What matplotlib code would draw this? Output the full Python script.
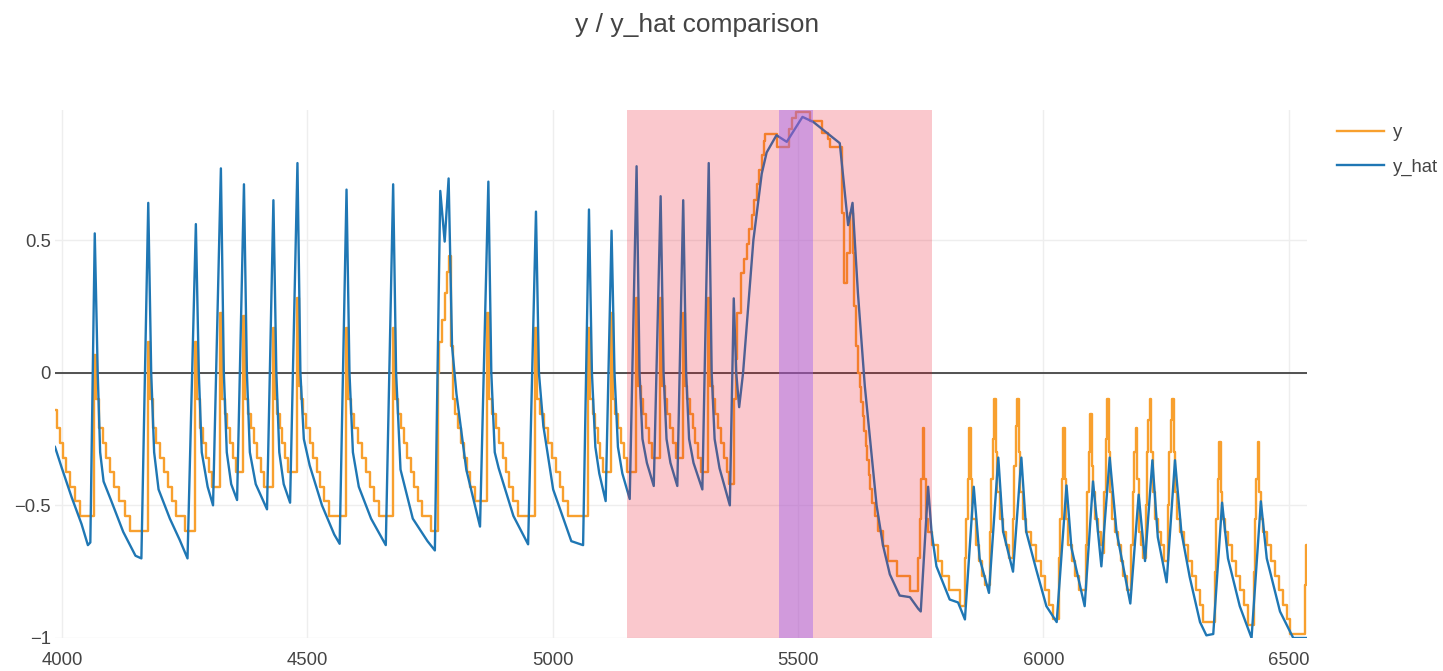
import matplotlib
matplotlib.use("Agg")
import matplotlib.pyplot as plt
from matplotlib.patches import Rectangle

plt.rcParams['font.family'] = ['Liberation Sans', 'DejaVu Sans']

# y_hat (model output), vertices of the line
y_hat_pts = [
    (3986, -0.28), (4000, -0.36), (4020, -0.47), (4040, -0.57), (4053, -0.65), (4058, -0.64),
    (4067, 0.525), (4073, 0.0), (4078, -0.30), (4085, -0.41), (4100, -0.48), (4125, -0.60), (4150, -0.69), (4162, -0.70),
    (4176, 0.64), (4182, 0.0), (4188, -0.30), (4197, -0.44), (4220, -0.55), (4240, -0.63), (4256, -0.70),
    (4273, 0.56), (4279, 0.0), (4285, -0.30), (4297, -0.43), (4308, -0.50),
    (4324, 0.77), (4330, 0.0), (4336, -0.30), (4345, -0.42), (4357, -0.48),
    (4371, 0.71), (4377, 0.0), (4383, -0.30), (4395, -0.42), (4418, -0.515),
    (4431, 0.65), (4437, 0.0), (4443, -0.30), (4452, -0.42), (4465, -0.49),
    (4480, 0.79), (4486, 0.0), (4493, -0.25), (4505, -0.35), (4530, -0.50), (4555, -0.61), (4566, -0.645),
    (4580, 0.69), (4586, 0.0), (4593, -0.30), (4605, -0.43), (4630, -0.55), (4660, -0.65),
    (4675, 0.71), (4681, 0.0), (4690, -0.365), (4715, -0.55), (4745, -0.635), (4760, -0.67),
    (4771, 0.685), (4780, 0.494), (4788, 0.732), (4795, 0.10), (4804, -0.08), (4824, -0.365), (4852, -0.58),
    (4869, 0.72), (4875, 0.0), (4882, -0.30), (4890, -0.36), (4920, -0.54), (4950, -0.647),
    (4966, 0.607), (4972, 0.0), (4981, -0.20), (5001, -0.44), (5038, -0.635), (5062, -0.65),
    (5074, 0.615), (5080, 0.0), (5087, -0.28), (5095, -0.38), (5108, -0.484),
    (5120, 0.535), (5126, 0.0), (5133, -0.28), (5142, -0.38), (5157, -0.476),
    (5171, 0.778), (5177, 0.0), (5183, -0.25), (5192, -0.34), (5206, -0.427),
    (5220, 0.665), (5226, 0.0), (5232, -0.25), (5240, -0.34), (5254, -0.427),
    (5266, 0.65), (5272, 0.0), (5278, -0.25), (5287, -0.34), (5305, -0.44),
    (5318, 0.79), (5324, 0.0), (5330, -0.25), (5340, -0.36), (5361, -0.50),
    (5369, 0.28), (5374, 0.0), (5380, -0.13), (5388, 0.0), (5409, 0.50), (5426, 0.75), (5436, 0.83),
    (5456, 0.895), (5477, 0.87), (5509, 0.964), (5531, 0.945), (5558, 0.905), (5585, 0.865),
    (5602, 0.556), (5611, 0.64), (5622, 0.30), (5636, -0.05), (5660, -0.50), (5673, -0.65),
    (5687, -0.76), (5707, -0.84), (5728, -0.846), (5745, -0.89), (5750, -0.90),
    (5765, -0.43), (5772, -0.60), (5782, -0.73), (5809, -0.855), (5826, -0.866), (5840, -0.93),
    (5858, -0.43), (5870, -0.70), (5889, -0.83),
    (5908, -0.32), (5918, -0.60), (5938, -0.75),
    (5955, -0.32), (5965, -0.60), (5985, -0.74), (6006, -0.88), (6027, -0.94),
    (6047, -0.425), (6057, -0.66), (6084, -0.88),
    (6101, -0.41), (6118, -0.73),
    (6135, -0.32), (6149, -0.60), (6177, -0.87),
    (6194, -0.46), (6207, -0.71),
    (6222, -0.33), (6233, -0.62), (6251, -0.79),
    (6268, -0.33), (6281, -0.60), (6298, -0.77), (6319, -0.94), (6332, -0.99), (6346, -0.985),
    (6364, -0.49), (6376, -0.70), (6400, -0.88), (6424, -1.0),
    (6443, -0.485), (6455, -0.70), (6482, -0.90), (6509, -1.0), (6537, -1.0),
]

# y (target), sampled values held until the next sample
y_pts = [
    (3986, -0.14), (3990, -0.21), (3996, -0.265), (4002, -0.32), (4008, -0.375), (4016, -0.43), (4026, -0.485), (4036, -0.54),
    (4066, 0.065),
    (4070, -0.10), (4076, -0.21), (4083, -0.265), (4090, -0.32), (4098, -0.375), (4106, -0.43), (4116, -0.485), (4128, -0.54), (4139, -0.595),
    (4175, 0.115),
    (4179, -0.10), (4185, -0.21), (4192, -0.265), (4200, -0.32), (4208, -0.375), (4216, -0.43), (4224, -0.485), (4232, -0.54), (4250, -0.595),
    (4272, 0.115),
    (4276, -0.10), (4281, -0.21), (4287, -0.265), (4293, -0.32), (4299, -0.375), (4305, -0.43),
    (4323, 0.225),
    (4327, -0.10), (4332, -0.155), (4337, -0.21), (4343, -0.265), (4348, -0.32), (4354, -0.375),
    (4370, 0.215),
    (4374, -0.10), (4379, -0.155), (4385, -0.21), (4391, -0.265), (4398, -0.32), (4405, -0.375), (4412, -0.43),
    (4430, 0.17),
    (4434, -0.10), (4439, -0.155), (4444, -0.21), (4449, -0.265), (4454, -0.32), (4460, -0.375),
    (4479, 0.28),
    (4483, -0.05), (4487, -0.10), (4492, -0.155), (4498, -0.21), (4505, -0.265), (4512, -0.32), (4519, -0.375), (4526, -0.43), (4534, -0.485), (4545, -0.54),
    (4579, 0.17),
    (4583, -0.10), (4589, -0.155), (4596, -0.21), (4603, -0.265), (4611, -0.32), (4619, -0.375), (4627, -0.43), (4636, -0.485), (4646, -0.54),
    (4674, 0.17),
    (4678, -0.10), (4684, -0.155), (4690, -0.21), (4697, -0.265), (4704, -0.32), (4711, -0.375), (4718, -0.43), (4725, -0.485), (4733, -0.54), (4752, -0.595),
    (4766, 0.0), (4769, 0.115), (4775, 0.20), (4780, 0.30), (4784, 0.38), (4788, 0.44),
    (4793, 0.10), (4797, -0.10), (4802, -0.155), (4808, -0.21), (4814, -0.265), (4820, -0.32), (4826, -0.375), (4832, -0.43), (4841, -0.485),
    (4867, 0.225),
    (4871, -0.10), (4877, -0.155), (4884, -0.21), (4891, -0.265), (4898, -0.32), (4905, -0.375), (4912, -0.43), (4920, -0.485), (4930, -0.54),
    (4965, 0.17),
    (4969, -0.10), (4975, -0.155), (4982, -0.21), (4990, -0.265), (4998, -0.32), (5006, -0.375), (5014, -0.43), (5022, -0.485), (5032, -0.54),
    (5073, 0.17),
    (5077, -0.10), (5082, -0.155), (5087, -0.21), (5092, -0.265), (5097, -0.32), (5103, -0.375),
    (5119, 0.225),
    (5123, -0.10), (5128, -0.155), (5133, -0.21), (5139, -0.265), (5145, -0.32), (5151, -0.375),
    (5170, 0.28),
    (5174, -0.05), (5179, -0.10), (5184, -0.155), (5190, -0.21), (5196, -0.265), (5202, -0.32),
    (5219, 0.28),
    (5223, -0.05), (5228, -0.10), (5233, -0.155), (5239, -0.21), (5245, -0.265), (5251, -0.32),
    (5265, 0.225),
    (5269, -0.05), (5274, -0.10), (5279, -0.155), (5285, -0.21), (5291, -0.265), (5297, -0.32), (5303, -0.375),
    (5317, 0.28),
    (5321, -0.05), (5326, -0.10), (5331, -0.155), (5337, -0.21), (5343, -0.265), (5349, -0.32), (5355, -0.375), (5359, -0.42),
    (5370, -0.10), (5373, 0.05), (5376, 0.225), (5383, 0.376), (5389, 0.43), (5395, 0.485), (5401, 0.54),
    (5406, 0.595), (5411, 0.65), (5416, 0.71), (5421, 0.765), (5426, 0.82), (5430, 0.875), (5433, 0.90),
    (5457, 0.852), (5482, 0.92), (5488, 0.96), (5496, 0.982), (5524, 0.95), (5548, 0.905), (5561, 0.88), (5565, 0.852),
    (5589, 0.60), (5593, 0.338), (5599, 0.45), (5605, 0.60), (5611, 0.45), (5615, 0.25), (5619, 0.10),
    (5622, 0.0), (5626, -0.055), (5629, -0.11), (5632, -0.165), (5635, -0.22), (5638, -0.275), (5641, -0.33),
    (5644, -0.385), (5647, -0.44), (5651, -0.49), (5657, -0.54), (5663, -0.595), (5673, -0.653), (5684, -0.71),
    (5701, -0.766), (5728, -0.822),
    (5745, -0.70), (5748, -0.55), (5751, -0.40), (5754, -0.21), (5757, -0.40), (5760, -0.55),
    (5764, -0.60), (5772, -0.65), (5786, -0.71), (5794, -0.765), (5808, -0.82), (5829, -0.88),
    (5840, -0.70), (5843, -0.55), (5846, -0.40), (5849, -0.21), (5852, -0.40), (5855, -0.55),
    (5862, -0.65), (5868, -0.71), (5874, -0.765), (5880, -0.80),
    (5891, -0.60), (5894, -0.40), (5897, -0.25), (5900, -0.10), (5903, -0.30), (5906, -0.45),
    (5911, -0.55), (5917, -0.60), (5924, -0.65), (5930, -0.70),
    (5938, -0.55), (5941, -0.35), (5944, -0.20), (5947, -0.10), (5950, -0.30), (5953, -0.45),
    (5958, -0.55), (5965, -0.60), (5974, -0.65), (5984, -0.71), (5994, -0.765), (6004, -0.82), (6012, -0.875), (6020, -0.93),
    (6031, -0.70), (6034, -0.55), (6037, -0.40), (6040, -0.21), (6043, -0.40), (6046, -0.55),
    (6051, -0.65), (6058, -0.71), (6065, -0.765), (6072, -0.82),
    (6086, -0.65), (6089, -0.45), (6092, -0.30), (6095, -0.155), (6098, -0.35), (6101, -0.45),
    (6106, -0.55), (6112, -0.60), (6118, -0.65), (6122, -0.68),
    (6124, -0.45), (6127, -0.25), (6130, -0.10), (6133, -0.30), (6136, -0.45),
    (6140, -0.55), (6145, -0.60), (6151, -0.65), (6157, -0.71), (6163, -0.765), (6170, -0.82),
    (6179, -0.65), (6182, -0.45), (6185, -0.30), (6188, -0.21), (6191, -0.40),
    (6195, -0.60), (6199, -0.65), (6203, -0.70),
    (6208, -0.50), (6211, -0.30), (6214, -0.18), (6217, -0.10), (6220, -0.30), (6223, -0.45),
    (6227, -0.55), (6233, -0.60), (6239, -0.65), (6245, -0.71),
    (6253, -0.50), (6256, -0.30), (6259, -0.18), (6262, -0.10), (6265, -0.30), (6268, -0.45),
    (6272, -0.55), (6279, -0.60), (6287, -0.65), (6295, -0.71), (6303, -0.765), (6311, -0.82), (6318, -0.875), (6325, -0.94),
    (6349, -0.75), (6352, -0.55), (6355, -0.40), (6358, -0.26), (6361, -0.45), (6364, -0.55),
    (6369, -0.60), (6377, -0.65), (6385, -0.71), (6393, -0.765), (6401, -0.82), (6409, -0.875), (6417, -0.95),
    (6428, -0.75), (6431, -0.55), (6434, -0.40), (6437, -0.26), (6440, -0.45), (6443, -0.55),
    (6448, -0.60), (6456, -0.65), (6464, -0.71), (6472, -0.765), (6480, -0.82), (6488, -0.875), (6496, -0.93), (6503, -0.985),
    (6532, -0.80), (6535, -0.65), (6537, -0.65),
]

# highlighted windows (x ranges)
anomaly_window = (5151, 5773)
focus_window = (5461, 5531)

x_ticks = [4000, 4500, 5000, 5500, 6000, 6500]
y_ticks = [-1, -0.5, 0, 0.5]
y_tick_labels = ['\u22121', '\u22120.5', '0', '0.5']

text_color = '#444444'
orange = '#f8a02e'
blue = '#1f77b4'

fig = plt.figure(figsize=(14.43, 6.71), dpi=100)
ax = fig.add_axes([55 / 1443, 1 - 638 / 671, (1307 - 55) / 1443, (638 - 110) / 671])

yx, yv = zip(*y_pts)
hx, hv = zip(*y_hat_pts)
ax.plot(yx, yv, drawstyle='steps-post', color=orange, lw=1.7, label='y', zorder=2)
ax.plot(hx, hv, color=blue, lw=1.7, label='y_hat', zorder=2.1)

ax.axhline(0, color=text_color, lw=1.3, zorder=1.5)

# shaded windows sit on top of the lines, like plotly shapes
ax.add_patch(Rectangle((anomaly_window[0], -1), anomaly_window[1] - anomaly_window[0], 2,
                       facecolor=(235 / 255, 20 / 255, 40 / 255, 0.23), edgecolor='none', zorder=3))
ax.add_patch(Rectangle((focus_window[0], -1), focus_window[1] - focus_window[0], 2,
                       facecolor=(160 / 255, 100 / 255, 240 / 255, 0.45), edgecolor='none', zorder=3.1))

ax.set_xlim(3986, 6537)
ax.set_ylim(-1.0, 0.99)
ax.set_xticks(x_ticks)
ax.set_xticklabels([str(t) for t in x_ticks])
ax.set_yticks(y_ticks)
ax.set_yticklabels(y_tick_labels)
ax.grid(True, color='#eeeeee', lw=1.0, zorder=0)
ax.set_axisbelow(True)
for s in ax.spines.values():
    s.set_visible(False)
ax.tick_params(length=0, labelsize=13.3, labelcolor=text_color)
ax.tick_params(axis='x', pad=10)
ax.tick_params(axis='y', pad=3)

fig.text(0.483, 0.963, 'y / y_hat comparison', ha='center', va='center',
         fontsize=19, color=text_color)

ax.legend(loc='upper left', bbox_to_anchor=(1330 / 1443, 1 - 117 / 671),
          bbox_transform=fig.transFigure, frameon=False, fontsize=13.3,
          handlelength=2.5, labelcolor=text_color, borderaxespad=0, handletextpad=0.5,
          labelspacing=0.95)

fig.savefig('out.png', dpi=100)
